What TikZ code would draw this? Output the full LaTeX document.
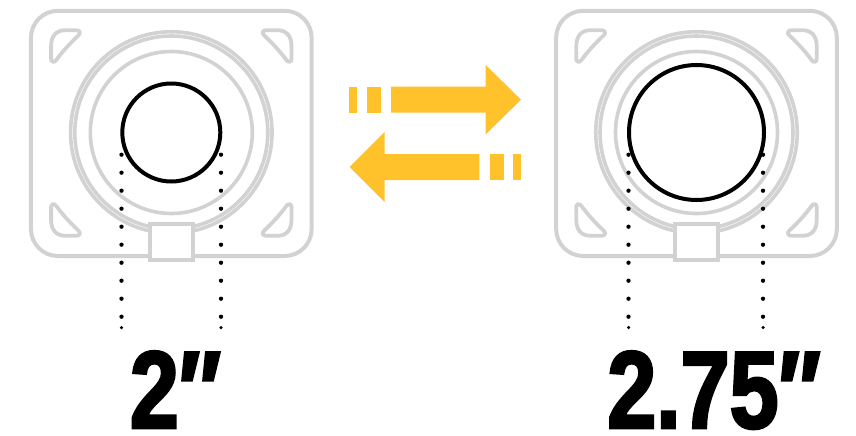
\documentclass[tikz,border=0pt]{standalone}
\usepackage{fontspec}
\newfontfamily\sizefont[FakeBold=2.4,FakeStretch=0.8]{Liberation Sans Bold}
\definecolor{plategray}{RGB}{210,210,210}
\definecolor{arrowyellow}{RGB}{255,194,42}
\tikzset{
  plate/.style={draw=plategray, line width=4pt, rounded corners=27pt, inner sep=0pt, outer sep=0pt,
    minimum width=280.7pt, minimum height=245.2pt},
  ring/.style={circle, draw=plategray, line width=3.6pt, inner sep=0pt, outer sep=0pt},
  bore/.style={circle, draw=black, line width=4pt, inner sep=0pt, outer sep=0pt},
  tab/.style={draw=plategray, fill=white, line width=4pt, inner sep=0pt, outer sep=0pt,
    minimum width=42.5pt, minimum height=35.7pt},
  cutout/.style={draw=plategray, line width=3.8pt},
  guide/.style={line width=4.3pt, line cap=round, dash pattern=on 0pt off 18pt},
  enddot/.style={circle, fill=black, inner sep=0pt, outer sep=0pt, minimum size=3.5pt},
  bar/.style={fill=arrowyellow, inner sep=0pt, outer sep=0pt},
  sizelabel/.style={anchor=base, inner sep=0pt, font=\sizefont\fontsize{110}{110}\selectfont}
}
\newcommand{\corners}[2]{
  \begin{scope}[shift={(#1,#2)}]
  \foreach \sx/\sy in {1/1,-1/1,1/-1,-1/-1}
    \draw[cutout, xscale=\sx, yscale=\sy] (-120.2,-87) .. controls (-120.2,-97) and (-115,-102.8) .. (-106,-102.8)
      -- (-95,-102.8) .. controls (-91.5,-102.8) and (-90.5,-100) .. (-92.5,-98)
      .. controls (-103,-88) and (-110,-80) .. (-115,-73)
      .. controls (-117,-70) and (-120.2,-71) .. (-120.2,-74) -- cycle;
  \end{scope}
}
\begin{document}
\begin{tikzpicture}[x=1pt,y=-1pt]
\useasboundingbox (0,0) rectangle (856,436);
% left flange
\node[plate] (plateA) at (171.3,133.4) {};
\corners{171.3}{133}
\node[ring, minimum size=201.5pt] (ringAa) at (171.3,132.5) {};
\node[ring, minimum size=193pt] (ringAb) at (171.3,132.5) {};
\node[ring, minimum size=162pt] (ringAc) at (171.3,132.5) {};
\node[tab] (tabA) at (171.3,241.8) {};
\node[bore, minimum size=98pt] (boreA) at (171.3,132.5) {};
% right flange
\node[plate] (plateB) at (696.5,133.4) {};
\corners{696.5}{133}
\node[ring, minimum size=201.5pt] (ringBa) at (696.5,132.5) {};
\node[ring, minimum size=193pt] (ringBb) at (696.5,132.5) {};
\node[ring, minimum size=162pt] (ringBc) at (696.5,132.5) {};
\node[tab] (tabB) at (696.5,241.8) {};
\node[bore, minimum size=135pt] (boreB) at (696.5,132.5) {};
% dotted guides
\coordinate (a1) at (121.5,154.7);
\coordinate (a2) at (121.5,317);
\coordinate (a3) at (221,154.7);
\coordinate (a4) at (221,317);
\coordinate (b1) at (628.5,154.7);
\coordinate (b2) at (628.5,317);
\coordinate (b3) at (763,154.7);
\coordinate (b4) at (763,317);
\draw[guide] (a1) -- (a2);
\draw[guide] (a3) -- (a4);
\draw[guide] (b1) -- (b2);
\draw[guide] (b3) -- (b4);
\node[enddot] (enda) at (121.5,327.5) {};
\node[enddot] (endb) at (221,327.5) {};
\node[enddot] (endc) at (628.5,327.5) {};
\node[enddot] (endd) at (763,327.5) {};
% arrows
\fill[bar] (349,86.7) rectangle (357,112.7);
\fill[bar] (367,86.7) rectangle (381,112.7);
\fill[bar] (391,86.7) -- (485.7,86.7) -- (485.7,65) -- (521,99.7) -- (485.7,134.3) -- (485.7,112.7) -- (391,112.7) -- cycle;
\fill[bar] (513,154) rectangle (521,180);
\fill[bar] (490,154) rectangle (504,180);
\fill[bar] (479.3,154) -- (384.7,154) -- (384.7,132) -- (349.7,167) -- (384.7,202) -- (384.7,180) -- (479.3,180) -- cycle;
% sizes
\node[sizelabel] (sizeA) at (175.5,428) {2″};
\node[sizelabel] (sizeB) at (714,428) {2.75″};
\end{tikzpicture}
\end{document}
